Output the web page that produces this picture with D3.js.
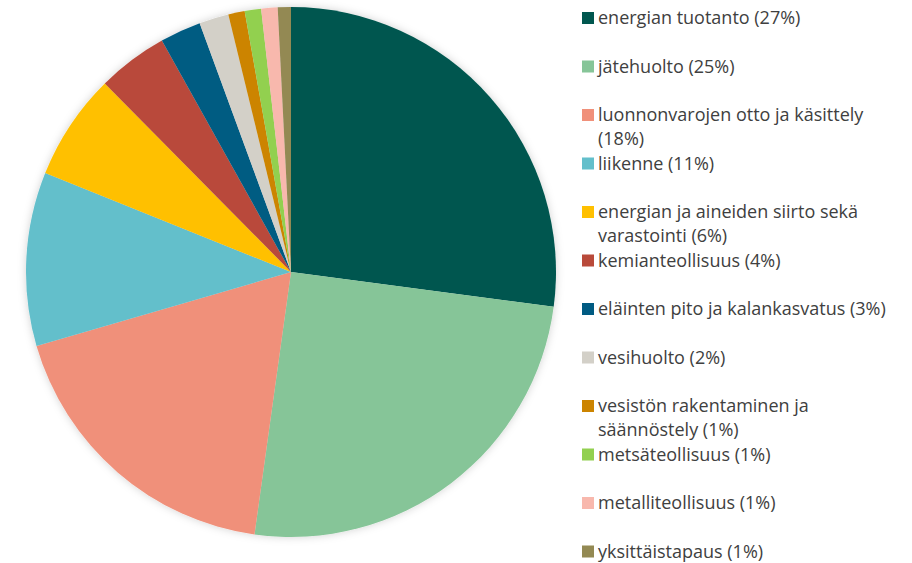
<!DOCTYPE html>
<html>
<head>
<meta charset="utf-8">
<title>Pie</title>
<style>
body { margin: 0; background: #fff; }
svg { display: block; }
text { font-family: "Open Sans", "Noto Sans", sans-serif; fill: #404040; }
</style>
<script src="https://cdn.jsdelivr.net/npm/d3@7"></script>
</head>
<body>
<div id="chart"></div>
<script>
// categories (legend text, lines), values (%), colours
var categories = [
	["energian tuotanto (27%)"],
	["jätehuolto (25%)"],
	["luonnonvarojen otto ja käsittely", "(18%)"],
	["liikenne (11%)"],
	["energian ja aineiden siirto sekä", "varastointi (6%)"],
	["kemianteollisuus (4%)"],
	["eläinten pito ja kalankasvatus (3%)"],
	["vesihuolto (2%)"],
	["vesistön rakentaminen ja", "säännöstely (1%)"],
	["metsäteollisuus (1%)"],
	["metalliteollisuus (1%)"],
	["yksittäistapaus (1%)"]
];
var values = [27.1, 25.1, 18.3, 10.6, 6.5, 4.3, 2.5, 1.8, 1.0, 1.0, 1.0, 0.8];
var colors = ["#00574f", "#86c598", "#f0907a", "#63bfcb", "#ffc000", "#b94a3a",
	"#005b82", "#d3d0c8", "#cc8400", "#92d050", "#f8b8ad", "#938953"];

var width = 912, height = 563;
var cx = 291, cy = 272, r = 265;

var svg = d3.select("#chart").append("svg")
	.attr("width", width)
	.attr("height", height);

var defs = svg.append("defs");
var f = defs.append("filter").attr("id", "shadow")
	.attr("x", "-10%").attr("y", "-10%").attr("width", "120%").attr("height", "120%");
f.append("feDropShadow").attr("dx", 0).attr("dy", 0).attr("stdDeviation", 4)
	.attr("flood-color", "#000").attr("flood-opacity", 0.18);

var pie = d3.pie().sort(null).value(function (d) { return d; });
var arc = d3.arc().innerRadius(0).outerRadius(r);

var g = svg.append("g")
	.attr("transform", "translate(" + cx + "," + cy + ")")
	.attr("filter", "url(#shadow)");

g.selectAll("path")
	.data(pie(values))
	.enter().append("path")
		.attr("d", arc)
		.attr("fill", function (d, i) { return colors[i]; });

// legend
var y = d3.scaleLinear().domain([0, categories.length - 1]).range([18, 551.5]);

var item = svg.selectAll("g.legend")
	.data(categories)
	.enter().append("g")
		.attr("class", "legend")
		.attr("transform", function (d, i) { return "translate(582," + y(i) + ")"; });

item.append("rect")
	.attr("x", 0).attr("y", -6)
	.attr("width", 12).attr("height", 12)
	.attr("fill", function (d, i) { return colors[i]; });

item.each(function (d) {
	var t = d3.select(this).append("text")
		.style("font-size", "18px");
	d.forEach(function (line, k) {
		t.append("tspan").attr("x", 16).attr("y", k * 24).attr("dy", "0.35em").text(line);
	});
});
</script>
</body>
</html>
